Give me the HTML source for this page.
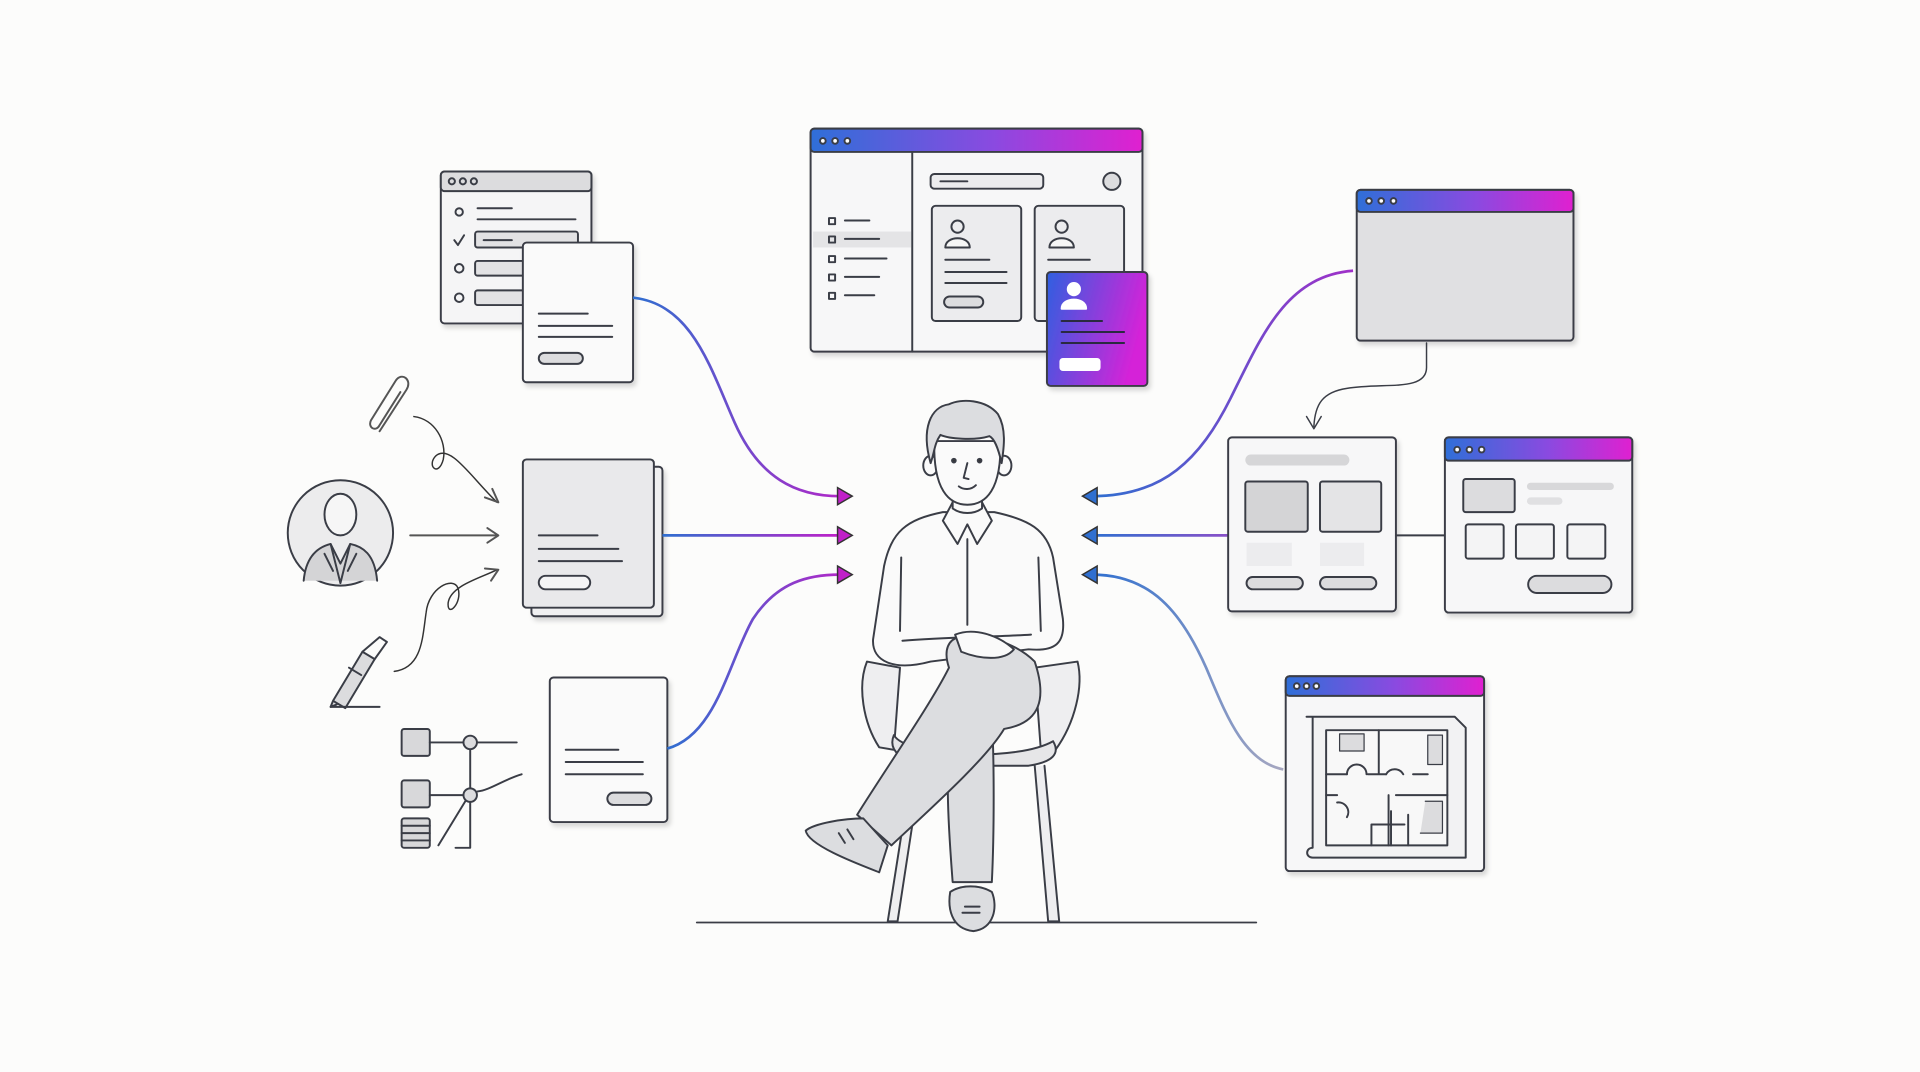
<!DOCTYPE html>
<html><head><meta charset="utf-8"><style>
html,body{margin:0;padding:0;background:#fcfcfb;}
svg{display:block}
</style></head><body>
<svg width="1920" height="1072" viewBox="0 0 1568 875" preserveAspectRatio="none" xmlns="http://www.w3.org/2000/svg">
<defs>
<linearGradient id="hg" x1="0" x2="1" y1="0" y2="0"><stop offset="0" stop-color="#2f6fd8"/><stop offset="0.55" stop-color="#8a4ae0"/><stop offset="1" stop-color="#e020d0"/></linearGradient>
<linearGradient id="cg" x1="0" x2="1" y1="0" y2="0.3"><stop offset="0" stop-color="#2f5fe0"/><stop offset="1" stop-color="#d523d8"/></linearGradient>
<linearGradient id="bmL" gradientUnits="userSpaceOnUse" x1="541" y1="0" x2="686" y2="0"><stop offset="0" stop-color="#2f6fd0"/><stop offset="1" stop-color="#c020c8"/></linearGradient>
<linearGradient id="pbR" gradientUnits="userSpaceOnUse" x1="1003" y1="0" x2="892" y2="0"><stop offset="0" stop-color="#8a50c8"/><stop offset="1" stop-color="#2f6fd0"/></linearGradient>
<linearGradient id="mb" x1="0" x2="1"><stop offset="0" stop-color="#2f6fd0"/><stop offset="1" stop-color="#b028c8"/></linearGradient>
<linearGradient id="pb" x1="1" x2="0"><stop offset="0" stop-color="#a030c8"/><stop offset="1" stop-color="#2f6fd0"/></linearGradient>
<linearGradient id="gb" x1="1" x2="0"><stop offset="0" stop-color="#a8a8c0"/><stop offset="1" stop-color="#2f6fd0"/></linearGradient>
<filter id="sh"><feDropShadow dx="2" dy="3" stdDeviation="2" flood-color="#000" flood-opacity="0.15"/></filter>
</defs>
<g fill="none" stroke="#3a3d46" stroke-width="1.6" stroke-linecap="round" stroke-linejoin="round">

<!-- top-left list window -->
<rect x="360" y="140" width="123" height="124" rx="3" fill="#f5f5f6" filter="url(#sh)"/>
<rect x="360" y="140" width="123" height="16" rx="3" fill="#dcdcde"/>
<circle cx="369" cy="148" r="2.5"/><circle cx="378" cy="148" r="2.5"/><circle cx="387" cy="148" r="2.5"/>
<circle cx="375" cy="173" r="3"/><path d="M390,170 H418 M390,179 H470"/>
<path d="M371,196 l3,4 l5,-8"/><rect x="388" y="189" width="84" height="13" rx="2" fill="#e2e2e4"/><path d="M395,196 H418"/>
<circle cx="375" cy="219" r="3.5"/><rect x="388" y="213" width="42" height="12" rx="2" fill="#e2e2e4"/>
<circle cx="375" cy="243" r="3.5"/><rect x="388" y="237" width="42" height="12" rx="2" fill="#e2e2e4"/>
<rect x="427" y="198" width="90" height="114" rx="3" fill="#fafafa" filter="url(#sh)"/>
<path d="M440,256 H480 M440,266 H500 M440,275 H500"/>
<rect x="440" y="288" width="36" height="9" rx="4.5" fill="#dcdcde"/>

<!-- middle doc stack -->
<rect x="434" y="381" width="107" height="122" rx="3" fill="#f0f0f1" filter="url(#sh)"/>
<rect x="427" y="375" width="107" height="121" rx="3" fill="#e9e9eb"/>
<path d="M440,437 H488 M440,448 H505 M440,458 H508"/>
<rect x="440" y="470" width="42" height="11" rx="5.5" fill="#f4f4f5"/>

<!-- bottom doc -->
<rect x="449" y="553" width="96" height="118" rx="3" fill="#fafafa" filter="url(#sh)"/>
<path d="M462,612 H505 M462,622 H525 M462,632 H525"/>
<rect x="496" y="647" width="36" height="10" rx="5" fill="#dcdcde"/>

<!-- avatar -->
<circle cx="278" cy="435" r="43" fill="#ececed"/>
<ellipse cx="278" cy="420" rx="13" ry="17" fill="#f6f6f6"/>
<path d="M248,474 C250,452 262,446 270,444 L278,460 L286,444 C296,446 306,452 308,474" fill="#d4d4d6"/>
<path d="M270,444 L278,476 L286,444 M265,452 L272,466 M291,452 L284,466"/>
<path d="M335,437 H406" stroke="#555"/><path d="M398,431 L407,437 L398,443" stroke="#555"/>

<!-- paperclip -->
<path d="M310,352 L332,318 C337,310 328,303 323,311 L303,343 C300,349 307,353 310,347 L327,320" stroke="#555"/>
<path d="M338,340 C355,342 365,360 362,375 C358,390 348,380 356,372 C368,362 385,390 406,410" stroke="#333" stroke-width="1.2"/>
<path d="M396,406 L407,410 L402,399" stroke="#555"/>
<!-- pen -->
<path d="M272,572 L296,532 L306,538 L282,578 Z M272,572 L270,577 L275,575" fill="#dcdcde"/>
<path d="M296,532 L310,520 L316,524 L306,538 M285,545 L295,551"/>
<path d="M270,577 H310"/>
<path d="M322,548 C345,545 345,520 348,500 C350,480 370,470 374,480 C378,492 365,505 366,492 C368,478 392,472 406,465" stroke="#333" stroke-width="1.2"/>
<path d="M396,464 L407,465 L401,474" stroke="#555"/>
<!-- tree -->
<rect x="328" y="595" width="23" height="22" rx="2" fill="#d8d8da"/>
<rect x="328" y="637" width="23" height="22" rx="2" fill="#d8d8da"/>
<rect x="328" y="668" width="23" height="24" rx="2" fill="#d8d8da"/><path d="M328,674 H351 M328,680 H351 M328,686 H351"/>
<path d="M351,606 H378 M390,606 H422 M384,611 V692 M372,692 H384 M351,649 H378 M390,646 C400,645 412,636 426,632 M358,690 L380,654"/>
<circle cx="384" cy="606" r="5.5" fill="#dcdcde"/><circle cx="384" cy="649" r="5.5" fill="#dcdcde"/>
</g>

<!-- connectors -->
<g fill="none" stroke-width="2.2">
<path d="M517,243 C565,248 580,300 600,345 C620,390 650,405 686,405" stroke="url(#mb)"/>
<path d="M541,437 H686" stroke="url(#bmL)"/>
<path d="M545,611 C585,600 595,540 615,505 C635,475 660,469 686,469" stroke="url(#mb)"/>
<path d="M1105,221 C1050,225 1030,275 1005,325 C980,375 950,405 892,405" stroke="url(#pb)"/>
<path d="M1003,437 H892" stroke="url(#pbR)"/>
<path d="M1048,628 C1015,622 1000,580 985,545 C965,500 940,469 892,469" stroke="url(#gb)"/>
</g>
<g stroke="#333" stroke-width="1.2">
<path d="M684,398 L696,405 L684,412 Z" fill="#c020c8"/>
<path d="M684,430 L696,437 L684,444 Z" fill="#c020c8"/>
<path d="M684,462 L696,469 L684,476 Z" fill="#c020c8"/>
<path d="M896,398 L884,405 L896,412 Z" fill="#2f6fd0"/>
<path d="M896,430 L884,437 L896,444 Z" fill="#2f6fd0"/>
<path d="M896,462 L884,469 L896,476 Z" fill="#2f6fd0"/>
</g>

<g fill="none" stroke="#3a3d46" stroke-width="1.6" stroke-linecap="round" stroke-linejoin="round">
<!-- top center window -->
<rect x="662" y="105" width="271" height="182" rx="3" fill="#f7f7f8" filter="url(#sh)"/>
<rect x="662" y="105" width="271" height="19" rx="3" fill="url(#hg)"/>
<circle cx="672" cy="115" r="2.3" fill="#fff"/><circle cx="682" cy="115" r="2.3" fill="#fff"/><circle cx="692" cy="115" r="2.3" fill="#fff"/>
<rect x="664" y="189" width="80" height="13" fill="#e4e4e6" stroke="none"/>
<path d="M745,124 V287"/>
<rect x="677" y="178" width="5" height="5"/><path d="M690,180 H710"/>
<rect x="677" y="193" width="5" height="5"/><path d="M690,195 H718"/>
<rect x="677" y="209" width="5" height="5"/><path d="M690,211 H724"/>
<rect x="677" y="224" width="5" height="5"/><path d="M690,226 H718"/>
<rect x="677" y="239" width="5" height="5"/><path d="M690,241 H714"/>
<rect x="760" y="142" width="92" height="12" rx="3" fill="#ececee"/><path d="M768,148 H790"/>
<circle cx="908" cy="148" r="7" fill="#dcdcde"/>
<rect x="761" y="168" width="73" height="94" rx="3" fill="#ececee"/>
<circle cx="782" cy="185" r="5"/><path d="M772,202 C772,192 792,192 792,202 Z" fill="#f6f6f6"/>
<path d="M772,212 H808 M772,222 H822 M772,231 H822"/>
<rect x="771" y="242" width="32" height="9" rx="4.5" fill="#dcdcde"/>
<rect x="845" y="168" width="73" height="94" rx="3" fill="#ececee"/>
<circle cx="867" cy="185" r="5"/><path d="M857,202 C857,192 877,192 877,202 Z" fill="#f6f6f6"/>
<path d="M856,212 H890"/>
<rect x="855" y="222" width="82" height="93" rx="3" fill="url(#cg)" filter="url(#sh)"/>
<circle cx="877" cy="236" r="5" fill="#fff" stroke="#fff"/><path d="M867,252 C867,242 887,242 887,252 Z" fill="#fff" stroke="#fff"/>
<path d="M867,262 H900 M867,271 H918 M867,280 H918" stroke="#2a2a40"/>
<rect x="866" y="293" width="32" height="9" rx="2" fill="#fff" stroke="#fff"/>

<!-- top right window -->
<rect x="1108" y="155" width="177" height="123" rx="3" fill="#e0e0e2" filter="url(#sh)"/>
<rect x="1108" y="155" width="177" height="18" rx="3" fill="url(#hg)"/>
<circle cx="1118" cy="164" r="2.3" fill="#fff"/><circle cx="1128" cy="164" r="2.3" fill="#fff"/><circle cx="1138" cy="164" r="2.3" fill="#fff"/>
<path d="M1165,280 V300 C1165,320 1130,312 1100,317 C1080,320 1074,330 1073,348" stroke-width="1.2"/>
<path d="M1067,340 L1073,350 L1079,340" stroke-width="1.2"/>

<!-- window A -->
<rect x="1003" y="357" width="137" height="142" rx="3" fill="#f7f7f8" filter="url(#sh)"/>
<rect x="1017" y="371" width="85" height="9" rx="4.5" fill="#d6d6d8" stroke="none"/>
<rect x="1017" y="393" width="51" height="41" rx="2" fill="#d4d4d6"/>
<rect x="1078" y="393" width="50" height="41" rx="2" fill="#e4e4e6"/>
<rect x="1018" y="443" width="37" height="19" fill="#ececee" stroke="none"/>
<rect x="1078" y="443" width="36" height="19" fill="#ececee" stroke="none"/>
<rect x="1018" y="471" width="46" height="10" rx="5" fill="#dcdcde"/>
<rect x="1078" y="471" width="46" height="10" rx="5" fill="#dcdcde"/>
<path d="M1140,437 H1180"/>
<!-- window B -->
<rect x="1180" y="357" width="153" height="143" rx="3" fill="#f7f7f8" filter="url(#sh)"/>
<rect x="1180" y="357" width="153" height="19" rx="3" fill="url(#hg)"/>
<circle cx="1190" cy="367" r="2.3" fill="#fff"/><circle cx="1200" cy="367" r="2.3" fill="#fff"/><circle cx="1210" cy="367" r="2.3" fill="#fff"/>
<rect x="1195" y="391" width="42" height="27" rx="2" fill="#dcdcde"/>
<rect x="1247" y="394" width="71" height="6" rx="3" fill="#d8d8da" stroke="none"/>
<rect x="1247" y="406" width="29" height="6" rx="3" fill="#e0e0e2" stroke="none"/>
<rect x="1197" y="428" width="31" height="28" rx="2" fill="#f4f4f5"/>
<rect x="1238" y="428" width="31" height="28" rx="2" fill="#f4f4f5"/>
<rect x="1280" y="428" width="31" height="28" rx="2" fill="#f4f4f5"/>
<rect x="1248" y="470" width="68" height="14" rx="7" fill="#dcdcde"/>

<!-- window C -->
<rect x="1050" y="552" width="162" height="159" rx="3" fill="#f7f7f8" filter="url(#sh)"/>
<rect x="1050" y="552" width="162" height="16" rx="3" fill="url(#hg)"/>
<circle cx="1059" cy="560" r="2.3" fill="#fff"/><circle cx="1067" cy="560" r="2.3" fill="#fff"/><circle cx="1075" cy="560" r="2.3" fill="#fff"/>
<path d="M1067,585 H1188 L1197,594 V700 H1072 C1066,700 1066,692 1072,692 V585 Z" fill="#f2f2f3"/>
<rect x="1083" y="596" width="99" height="94" fill="#f8f8f8"/>
<path d="M1083,632 H1100 M1117,632 H1132 M1083,649 H1092 M1140,649 H1182 M1126,596 V632 M1154,632 H1166 M1134,649 V690 M1120,673 H1147 M1120,673 V690 M1136,662 V690 M1150,665 V690"/>
<path d="M1100,632 a8,8 0 0 1 16,0 M1132,632 a8,8 0 0 1 14,0 M1092,655 a8,8 0 0 1 8,12"/>
<rect x="1094" y="599" width="20" height="14" fill="#dcdcde" stroke-width="1"/>
<path d="M1166,600 H1178 V624 H1166 Z M1164,654 H1178 V680 H1160" fill="#dcdcde" stroke-width="1"/>

<!-- ground -->
<path d="M569,753 H1026" stroke-width="1.4"/>

<!-- chair -->
<path d="M708,540 C700,560 705,590 718,610 L730,612 L735,545 Z" fill="#eeeef0"/>
<path d="M880,540 C885,560 878,590 862,612 L850,612 L845,545 Z" fill="#eeeef0"/>
<path d="M730,600 C740,618 830,622 860,605 C866,615 860,622 840,625 L760,625 C735,622 725,612 730,600 Z" fill="#e6e6e8"/>
<path d="M745,625 L725,752 L733,752 L752,628 M845,625 L856,752 L865,752 L853,625" fill="#eeeef0"/>
<!-- standing leg -->
<path d="M780,590 C770,620 775,680 778,720 L810,720 C812,680 812,620 810,585 Z" fill="#dcdde0"/>
<path d="M776,728 C774,740 776,758 795,760 C812,758 815,740 810,728 C800,722 785,722 776,728 Z" fill="#dcdde0"/>
<path d="M786,745 H800 M788,740 H800"/>
<!-- torso -->
<path d="M770,418 C740,424 728,434 722,462 L713,522 C712,540 730,548 760,540 L840,530 C862,532 870,525 868,505 L860,455 C855,432 840,424 812,418 Z" fill="#fafafa"/>
<path d="M736,455 L735,515 M848,455 L850,515 M790,440 V510 M737,523 C770,520 810,520 842,518"/>
<path d="M778,410 L770,425 L782,444 L790,428 L798,444 L810,425 L802,410" fill="#fafafa"/>
<!-- crossed leg -->
<path d="M783,520 C800,515 830,525 845,540 C855,570 850,590 820,595 C805,620 760,660 728,690 L700,665 C725,625 760,575 775,545 C770,530 775,522 783,520 Z" fill="#dcdde0"/>
<path d="M780,518 C795,512 815,518 828,530 C820,540 800,538 785,532 Z" fill="#fafafa"/>
<path d="M705,668 C690,668 665,672 658,678 C660,690 700,705 718,712 L725,690 Z" fill="#dcdde0"/>
<path d="M685,680 L690,688 M692,677 L697,685"/>
<!-- head -->
<path d="M778,400 V415 C785,420 795,420 802,415 V400" fill="#fafafa"/>
<ellipse cx="760" cy="380" rx="6" ry="8" fill="#fafafa"/>
<ellipse cx="820" cy="380" rx="6" ry="8" fill="#fafafa"/>
<path d="M763,360 C762,400 775,412 790,412 C805,412 818,400 817,360 Z" fill="#fafafa"/>
<path d="M760,378 C752,350 760,332 775,330 C785,325 805,326 815,338 C822,350 820,365 818,378 C815,365 812,358 808,356 C795,360 775,358 768,355 C763,362 763,370 760,378 Z" fill="#dcdde0"/>
<circle cx="779" cy="376" r="1.5" fill="#333"/><circle cx="800" cy="376" r="1.5" fill="#333"/>
<path d="M790,378 L787,390 L791,391 M783,397 C787,400 793,400 797,396"/>
</g>
</svg>
</body></html>
